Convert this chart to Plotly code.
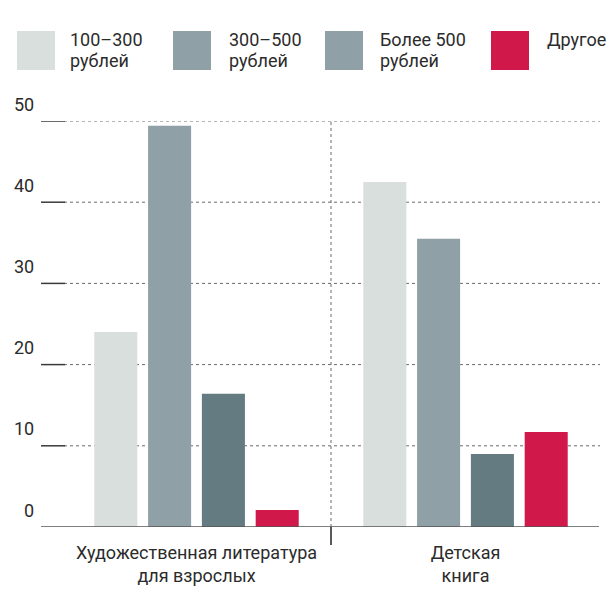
import plotly.graph_objects as go

categories = ["Художественная литература<br>для взрослых", "Детская<br>книга"]
series_names = ["100–300 рублей", "300–500 рублей", "Более 500 рублей", "Другое"]
legend_lines = [["100–300", "рублей"], ["300–500", "рублей"], ["Более 500", "рублей"], ["Другое"]]
s_100_300 = [24.0, 42.5]
s_300_500 = [49.4, 35.5]
s_500_plus = [16.4, 9.0]
s_other = [2.1, 11.7]
y_ticks = [0, 10, 20, 30, 40, 50]

bar_colors = ["#d9dfdc", "#8fa1a7", "#637b81", "#d0194a"]
legend_colors = ["#d9dfdc", "#8fa1a7", "#8fa1a7", "#d0194a"]
FONT = "Roboto, Liberation Sans, sans-serif"
TXT = "#2b2b2b"

W, H = 615, 597
L, R, T, B = 62, 15, 121, 70
PW, PH = W - L - R, H - T - B


def px_x(p):
    return (p - L) / PW


def px_y(p):
    return (H - B - p) / PH


fig = go.Figure()
for name, vals, col in zip(series_names, [s_100_300, s_300_500, s_500_plus, s_other], bar_colors):
    fig.add_trace(go.Bar(x=categories, y=vals, name=name, marker=dict(color=col, line=dict(width=0)),
                         showlegend=False, hoverinfo="skip"))

shapes = []
annotations = []
# gridlines and tick segments
for v in y_ticks:
    if v > 0:
        shapes.append(dict(type="line", xref="paper", yref="y", x0=px_x(64), x1=px_x(600), y0=v, y1=v,
                           line=dict(color="#6a6a6a", width=1, dash="dot"), layer="below"))
        shapes.append(dict(type="line", xref="paper", yref="y", x0=px_x(41), x1=px_x(65), y0=v, y1=v,
                           line=dict(color="#3a3a3a", width=1.5)))
    annotations.append(dict(xref="paper", yref="y", x=px_x(36), y=v, text=str(v), showarrow=False,
                            xanchor="right", yanchor="middle", yshift=17,
                            font=dict(family=FONT, size=18, color=TXT)))
# baseline
shapes.append(dict(type="line", xref="paper", yref="y", x0=px_x(41), x1=px_x(599), y0=0, y1=0,
                   line=dict(color="#555555", width=1.5)))
# separator between categories
shapes.append(dict(type="line", xref="x", yref="y", x0=0.5, x1=0.5, y0=0, y1=50,
                   line=dict(color="#6a6a6a", width=1, dash="dot"), layer="below"))
shapes.append(dict(type="line", xref="x", yref="paper", x0=0.5, x1=0.5, y0=0, y1=px_y(545),
                   line=dict(color="#222222", width=1.5)))

# custom legend
sq_x = [17, 173, 325, 491]
tx_x = [69, 228, 379, 546]
for i in range(4):
    shapes.append(dict(type="rect", xref="paper", yref="paper", x0=px_x(sq_x[i]), x1=px_x(sq_x[i] + 38),
                       y0=px_y(70), y1=px_y(31), fillcolor=legend_colors[i], line=dict(width=0)))
    for j, line in enumerate(legend_lines[i]):
        annotations.append(dict(xref="paper", yref="paper", x=px_x(tx_x[i] - 1), y=px_y(40 + 21 * j),
                                text=line, showarrow=False, xanchor="left", yanchor="middle",
                                font=dict(family=FONT, size=18, color=TXT)))

fig.update_layout(
    width=W, height=H,
    margin=dict(l=L, r=R, t=T, b=B, pad=0, autoexpand=False),
    paper_bgcolor="white", plot_bgcolor="white",
    barmode="group", bargap=0.2, bargroupgap=0.2,
    showlegend=False,
    shapes=shapes, annotations=annotations,
    xaxis=dict(showgrid=False, showline=False, zeroline=False, ticks="outside", ticklen=9,
               automargin=False,
               tickcolor="rgba(0,0,0,0)", tickfont=dict(family=FONT, size=18, color=TXT)),
    yaxis=dict(range=[0, 50], showgrid=False, zeroline=False, showline=False, showticklabels=False,
               automargin=False, ticks=""),
)

fig.write_html("out.html", config={"displayModeBar": False},
               post_script="document.body.style.margin='0';document.body.style.overflow='hidden';")
